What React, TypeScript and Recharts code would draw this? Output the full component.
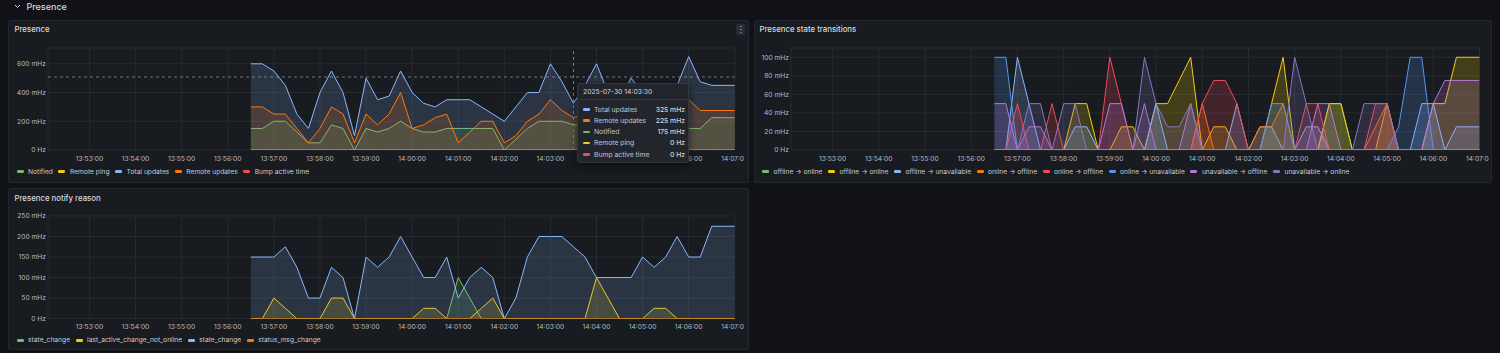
import React from 'react';
import { AreaChart, Area, XAxis, YAxis, CartesianGrid, ReferenceLine } from 'recharts';

// ---------- shared time axis ----------
const sampleTimes = [
  '13:56:30', '13:56:45', '13:57:00', '13:57:15', '13:57:30', '13:57:45', '13:58:00', '13:58:15', '13:58:30', '13:58:45',
  '13:59:00', '13:59:15', '13:59:30', '13:59:45', '14:00:00', '14:00:15', '14:00:30', '14:00:45', '14:01:00', '14:01:15',
  '14:01:30', '14:01:45', '14:02:00', '14:02:15', '14:02:30', '14:02:45', '14:03:00', '14:03:15', '14:03:30', '14:03:45',
  '14:04:00', '14:04:15', '14:04:30', '14:04:45', '14:05:00', '14:05:15', '14:05:30', '14:05:45', '14:06:00', '14:06:15',
  '14:06:30', '14:06:45', '14:07:00',
];
const xTickLabels = [
  '13:53:00', '13:54:00', '13:55:00', '13:56:00', '13:57:00', '13:58:00', '13:59:00', '14:00:00',
  '14:01:00', '14:02:00', '14:03:00', '14:04:00', '14:05:00', '14:06:00', '14:07:00',
];
const timeRange = ['13:52:06', '14:07:00'];

// ---------- panel 1: Presence (mHz) ----------
const presenceNotified = [
  150, 150, 200, 200, 125, 50, 50, 175, 150, 0,
  150, 125, 150, 200, 150, 125, 125, 150, 150, 150,
  150, 150, 0, 75, 150, 200, 200, 200, 175, 175,
  200, 150, 150, 175, 150, 150, 150, 150, 150, 150,
  225, 225, 225,
];
const presenceRemotePing = [
  0, 0, 0, 0, 0, 0, 0, 0, 0, 0,
  0, 0, 0, 0, 0, 0, 0, 0, 0, 0,
  0, 0, 0, 0, 0, 0, 0, 0, 0, 0,
  0, 0, 0, 0, 0, 0, 0, 0, 0, 0,
  0, 0, 0,
];
const presenceTotalUpdates = [
  600, 600, 550, 450, 250, 150, 400, 550, 400, 100,
  500, 350, 375, 550, 400, 325, 300, 350, 350, 350,
  300, 250, 200, 300, 400, 400, 600, 475, 325, 450,
  600, 400, 350, 500, 400, 375, 425, 450, 650, 475,
  450, 450, 450,
];
const presenceRemoteUpdates = [
  300, 300, 250, 250, 150, 50, 150, 300, 250, 50,
  250, 175, 250, 400, 150, 175, 225, 250, 50, 125,
  200, 200, 50, 100, 200, 250, 350, 275, 225, 250,
  300, 250, 225, 275, 250, 225, 250, 300, 350, 275,
  275, 275, 275,
];
const presenceBumpActiveTime = [
  0, 0, 0, 0, 0, 0, 0, 0, 0, 0,
  0, 0, 0, 0, 0, 0, 0, 0, 0, 0,
  0, 0, 0, 0, 0, 0, 0, 0, 0, 0,
  0, 0, 0, 0, 0, 0, 0, 0, 0, 0,
  0, 0, 0,
];
const presenceYTicks = [0, 200, 400, 600];
const presenceYMax = 710;

// hover state shown in the reference
const hoverDate = '2025-07-30';
const hoverTime = '14:03:30';
const hoverLevel = 508;

// ---------- panel 2: Presence state transitions (mHz) ----------
const trOfflineOnlineGreen = [
  0, 0, 0, 0, 0, 0, 0, 0, 0, 0,
  0, 0, 0, 0, 0, 0, 0, 0, 0, 0,
  0, 0, 0, 0, 0, 0, 0, 0, 0, 50,
  50, 0, 0, 0, 0, 0, 0, 0, 0, 0,
  0, 0, 0,
];
const trOfflineOnlineYellow = [
  0, 0, 0, 0, 0, 0, 0, 50, 50, 0,
  0, 25, 25, 0, 50, 50, 75, 100, 0, 25,
  25, 0, 0, 0, 50, 100, 0, 0, 0, 50,
  50, 0, 0, 0, 50, 0, 0, 0, 50, 50,
  100, 100, 100,
];
const trOfflineUnavailable = [
  0, 0, 100, 50, 0, 0, 0, 25, 25, 0,
  0, 0, 0, 0, 50, 0, 0, 0, 0, 0,
  0, 50, 0, 25, 25, 0, 0, 25, 25, 0,
  0, 0, 0, 0, 0, 0, 0, 50, 50, 0,
  25, 25, 25,
];
const trOnlineOfflineOrange = [
  0, 0, 0, 0, 0, 0, 0, 0, 0, 0,
  0, 0, 0, 0, 0, 0, 0, 0, 50, 0,
  0, 0, 0, 25, 25, 50, 0, 0, 0, 0,
  0, 0, 0, 25, 50, 0, 0, 0, 0, 0,
  0, 0, 0,
];
const trOnlineOfflineRed = [
  0, 0, 50, 0, 0, 50, 0, 0, 0, 0,
  100, 50, 0, 0, 0, 0, 0, 0, 50, 75,
  75, 50, 0, 0, 0, 0, 0, 50, 50, 0,
  0, 0, 0, 50, 50, 0, 0, 0, 0, 0,
  0, 0, 0,
];
const trOnlineUnavailable = [
  100, 100, 0, 0, 0, 0, 0, 0, 0, 0,
  0, 0, 0, 0, 0, 0, 0, 0, 0, 0,
  0, 0, 0, 0, 50, 50, 0, 0, 0, 0,
  0, 0, 0, 0, 0, 25, 100, 100, 0, 0,
  0, 0, 0,
];
const trUnavailableOffline = [
  50, 50, 0, 25, 25, 0, 0, 0, 0, 0,
  50, 50, 0, 50, 0, 0, 0, 50, 0, 0,
  0, 0, 0, 0, 0, 0, 0, 0, 50, 50,
  0, 0, 0, 0, 0, 0, 0, 0, 50, 75,
  75, 75, 75,
];
const trUnavailableOnline = [
  0, 0, 0, 50, 50, 0, 50, 50, 0, 0,
  0, 0, 0, 100, 50, 25, 25, 50, 0, 0,
  0, 0, 0, 0, 0, 0, 100, 50, 0, 0,
  0, 0, 50, 50, 50, 0, 0, 0, 0, 0,
  0, 0, 0,
];
const transitionsYTicks = [0, 20, 40, 60, 80, 100];
const transitionsYMax = 110;

// ---------- panel 3: Presence notify reason (mHz) ----------
const nrStateChangeGreen = [
  0, 0, 0, 0, 0, 0, 0, 0, 0, 0,
  0, 0, 0, 0, 0, 0, 0, 0, 100, 50,
  0, 0, 0, 0, 0, 0, 0, 0, 0, 0,
  0, 0, 0, 0, 0, 0, 0, 0, 0, 0,
  0, 0, 0,
];
const nrLastActiveNotOnline = [
  0, 0, 50, 25, 0, 0, 0, 50, 50, 0,
  0, 0, 0, 0, 0, 25, 25, 0, 0, 0,
  25, 50, 0, 0, 0, 0, 0, 0, 0, 0,
  100, 50, 0, 0, 0, 25, 25, 0, 0, 0,
  0, 0, 0,
];
const nrStateChangeBlue = [
  150, 150, 150, 175, 125, 50, 50, 125, 100, 0,
  150, 125, 150, 200, 150, 100, 100, 150, 50, 100,
  125, 100, 0, 50, 150, 200, 200, 200, 175, 150,
  100, 100, 100, 100, 150, 125, 150, 200, 150, 150,
  225, 225, 225,
];
const nrStatusMsgChange = [
  0, 0, 0, 0, 0, 0, 0, 0, 0, 0,
  0, 0, 0, 0, 0, 0, 0, 0, 0, 0,
  0, 0, 0, 0, 0, 0, 0, 0, 0, 0,
  0, 0, 0, 0, 0, 0, 0, 0, 0, 0,
  0, 0, 0,
];
const notifyYTicks = [0, 50, 100, 150, 200, 250];
const notifyYMax = 250;

// ---------- helpers ----------
const FONT = 'Inter, "Noto Sans", "DejaVu Sans", sans-serif';
const TICK_COLOR = '#b9bac3';
const LEGEND_COLOR = '#c9cad2';
const GRID = '#272a30';
const TICK_SIZE = 6.7;

const toSec = (s: string) => {
  const [h, m, x] = s.split(':').map(Number);
  return h * 3600 + m * 60 + x;
};
const fmtTime = (v: number) => {
  const h = Math.floor(v / 3600);
  const m = Math.floor((v % 3600) / 60);
  const s = Math.round(v % 60);
  return [h, m, s].map((n) => String(n).padStart(2, '0')).join(':');
};
const fmtHz = (v: number) => (v === 0 ? '0 Hz' : `${v} mHz`);

type Series = { key: string; name: string; color: string; values: number[] };

const buildRows = (series: Series[]) =>
  sampleTimes.map((t, i) => {
    const row: Record<string, number> = { t: toSec(t) };
    series.forEach((s) => {
      row[s.key] = s.values[i];
    });
    return row;
  });

const presenceSeries: Series[] = [
  { key: 'notified', name: 'Notified', color: '#73BF69', values: presenceNotified },
  { key: 'remotePing', name: 'Remote ping', color: '#F2CC0C', values: presenceRemotePing },
  { key: 'totalUpdates', name: 'Total updates', color: '#8AB8FF', values: presenceTotalUpdates },
  { key: 'remoteUpdates', name: 'Remote updates', color: '#FF780A', values: presenceRemoteUpdates },
  { key: 'bumpActive', name: 'Bump active time', color: '#F2495C', values: presenceBumpActiveTime },
];
const transitionSeries: Series[] = [
  { key: 'a', name: 'offline -> online', color: '#73BF69', values: trOfflineOnlineGreen },
  { key: 'b', name: 'offline -> online', color: '#F2CC0C', values: trOfflineOnlineYellow },
  { key: 'c', name: 'offline -> unavailable', color: '#8AB8FF', values: trOfflineUnavailable },
  { key: 'd', name: 'online -> offline', color: '#FF780A', values: trOnlineOfflineOrange },
  { key: 'e', name: 'online -> offline', color: '#F2495C', values: trOnlineOfflineRed },
  { key: 'f', name: 'online -> unavailable', color: '#5794F2', values: trOnlineUnavailable },
  { key: 'g', name: 'unavailable -> offline', color: '#B877D9', values: trUnavailableOffline },
  { key: 'h', name: 'unavailable -> online', color: '#8676C4', values: trUnavailableOnline },
];
const notifySeries: Series[] = [
  { key: 'sc1', name: 'state_change', color: '#73BF69', values: nrStateChangeGreen },
  { key: 'lac', name: 'last_active_change_not_online', color: '#F2CC0C', values: nrLastActiveNotOnline },
  { key: 'sc2', name: 'state_change', color: '#8AB8FF', values: nrStateChangeBlue },
  { key: 'smc', name: 'status_msg_change', color: '#FF780A', values: nrStatusMsgChange },
];

const xDomain = [toSec(timeRange[0]), toSec(timeRange[1])];
const xTicks = xTickLabels.map(toSec);

const XTick = (props: any) => {
  const { x, y, payload } = props;
  return (
    <text x={x} y={y} dy="0.71em" textAnchor="middle" fill={TICK_COLOR} fontSize={TICK_SIZE} fontFamily={FONT}>
      {fmtTime(payload.value)}
    </text>
  );
};
const YTick = (props: any) => {
  const { x, y, payload } = props;
  return (
    <text x={x} y={y} dy="0.36em" textAnchor="end" fill={TICK_COLOR} fontSize={TICK_SIZE} fontFamily={FONT}>
      {fmtHz(payload.value)}
    </text>
  );
};

type ChartProps = {
  left: number;
  top: number;
  width: number;
  height: number;
  yWidth: number;
  marginTop: number;
  marginRight: number;
  yMax: number;
  yTicks: number[];
  series: Series[];
  fillOpacity: number;
  children?: React.ReactNode;
};

function TimeChart(p: ChartProps) {
  const data = buildRows(p.series);
  return (
    <div style={{ position: 'absolute', left: p.left, top: p.top, width: p.width, height: p.height }}>
      <AreaChart
        width={p.width}
        height={p.height}
        data={data}
        margin={{ top: p.marginTop, right: p.marginRight, bottom: 2, left: 0 }}
      >
        <CartesianGrid stroke={GRID} strokeWidth={1} />
        <XAxis
          dataKey="t"
          type="number"
          domain={xDomain}
          ticks={xTicks}
          interval={0}
          allowDataOverflow
          tickLine={false}
          axisLine={false}
          tickSize={0}
          tickMargin={6}
          height={14}
          tick={<XTick />}
        />
        <YAxis
          type="number"
          domain={[0, p.yMax]}
          ticks={p.yTicks}
          interval={0}
          allowDataOverflow
          width={p.yWidth}
          tickLine={false}
          axisLine={false}
          tickSize={0}
          tickMargin={2}
          tick={<YTick />}
        />
        {p.series.map((s) => (
          <Area
            key={s.key}
            dataKey={s.key}
            name={s.name}
            type="linear"
            stroke={s.color}
            strokeWidth={1}
            fill={s.color}
            fillOpacity={p.fillOpacity}
            dot={false}
            activeDot={false}
            isAnimationActive={false}
          />
        ))}
        {p.children}
      </AreaChart>
    </div>
  );
}

function LegendRow({ left, top, series }: { left: number; top: number; series: Series[] }) {
  return (
    <div
      style={{
        position: 'absolute',
        left,
        top,
        display: 'flex',
        alignItems: 'center',
        fontFamily: FONT,
        fontSize: 6.7,
        lineHeight: '8px',
        color: LEGEND_COLOR,
        whiteSpace: 'nowrap',
      }}
    >
      {series.map((s) => (
        <div key={s.key} style={{ display: 'flex', alignItems: 'center', marginRight: 5.5 }}>
          <span
            style={{ display: 'inline-block', width: 7, height: 2.5, borderRadius: 1.25, background: s.color, marginRight: 4.5 }}
          />
          <span>{s.name}</span>
        </div>
      ))}
    </div>
  );
}

function PanelFrame({ left, top, width, height }: { left: number; top: number; width: number; height: number }) {
  return (
    <div
      style={{
        position: 'absolute',
        left,
        top,
        width,
        height,
        boxSizing: 'border-box',
        background: '#181b1f',
        border: '1px solid #24272d',
        borderRadius: 2,
      }}
    />
  );
}

function Title({ left, top, text }: { left: number; top: number; text: string }) {
  return (
    <div
      style={{
        position: 'absolute',
        left,
        top,
        fontFamily: FONT,
        fontSize: 7.8,
        fontWeight: 500,
        lineHeight: '9px',
        color: '#d8d9de',
        whiteSpace: 'nowrap',
      }}
    >
      {text}
    </div>
  );
}

function HoverTooltip() {
  const idx = sampleTimes.indexOf(hoverTime);
  const order = ['totalUpdates', 'remoteUpdates', 'notified', 'remotePing', 'bumpActive'];
  const rows = [...presenceSeries].sort((a, b) => order.indexOf(a.key) - order.indexOf(b.key));
  return (
    <div
      style={{
        position: 'absolute',
        left: 577,
        top: 83,
        width: 112,
        height: 80,
        boxSizing: 'border-box',
        background: '#22252b',
        border: '1px solid #34373e',
        borderRadius: 3,
        boxShadow: '0 3px 8px rgba(0,0,0,0.55)',
        fontFamily: FONT,
        fontSize: 6.8,
        color: '#d4d5dc',
      }}
    >
      <div style={{ position: 'absolute', left: 5, top: 3, lineHeight: '9px', whiteSpace: 'nowrap' }}>
        {hoverDate} {hoverTime}
      </div>
      <div style={{ position: 'absolute', left: 0, right: 0, top: 15, height: 1, background: '#34373e' }} />
      {rows.map((s, i) => (
        <div
          key={s.key}
          style={{ position: 'absolute', left: 5, top: 20.5 + i * 11.3, width: 102, height: 9, lineHeight: '9px', whiteSpace: 'nowrap' }}
        >
          <span
            style={{ position: 'absolute', left: 0, top: 3.5, width: 7, height: 2.5, borderRadius: 1.25, background: s.color }}
          />
          <span style={{ position: 'absolute', left: 11, top: 0, color: '#c3c4cc' }}>{s.name}</span>
          <span style={{ position: 'absolute', right: 0, top: 0, fontWeight: 500 }}>{fmtHz(s.values[idx])}</span>
        </div>
      ))}
    </div>
  );
}

export default function App() {
  return (
    <div
      style={{
        position: 'absolute',
        left: 0,
        top: 0,
        width: 1500,
        height: 353,
        overflow: 'hidden',
        background: '#111217',
        fontFamily: FONT,
      }}
    >
      {/* row header */}
      <svg style={{ position: 'absolute', left: 14, top: 4 }} width={7} height={5}>
        <polyline points="1,1 3.5,3.5 6,1" fill="none" stroke="#ccccdc" strokeWidth={1} />
      </svg>
      <div
        style={{
          position: 'absolute',
          left: 26.5,
          top: 1.5,
          fontSize: 9,
          fontWeight: 500,
          lineHeight: '10px',
          color: '#d8d9de',
        }}
      >
        Presence
      </div>

      {/* panels */}
      <PanelFrame left={8} top={20} width={741} height={163} />
      <PanelFrame left={754} top={20} width={738} height={163} />
      <PanelFrame left={8} top={188} width={741} height={162} />

      <Title left={14.5} top={24.8} text="Presence" />
      <Title left={759.5} top={24.8} text="Presence state transitions" />
      <Title left={14.5} top={193.5} text="Presence notify reason" />

      {/* panel menu icon */}
      <div
        style={{
          position: 'absolute',
          left: 736,
          top: 24,
          width: 9,
          height: 11,
          background: '#2a2d33',
          borderRadius: 2,
          color: '#c9cad2',
          fontSize: 8,
          lineHeight: '11px',
          textAlign: 'center',
        }}
      >
        ⋮
      </div>

      <TimeChart
        left={9}
        top={36}
        width={735}
        height={130}
        yWidth={39}
        marginTop={12}
        marginRight={9.2}
        yMax={presenceYMax}
        yTicks={presenceYTicks}
        series={presenceSeries}
        fillOpacity={0.16}
      >
        <ReferenceLine y={hoverLevel} stroke="#8f909a" strokeDasharray="3 3" strokeWidth={0.8} />
        <ReferenceLine x={toSec(hoverTime)} stroke="#8f909a" strokeDasharray="3 3" strokeWidth={0.8} />
      </TimeChart>
      <LegendRow left={16.5} top={167.7} series={presenceSeries} />

      <TimeChart
        left={755}
        top={36}
        width={734}
        height={130}
        yWidth={36}
        marginTop={12}
        marginRight={9.5}
        yMax={transitionsYMax}
        yTicks={transitionsYTicks}
        series={transitionSeries}
        fillOpacity={0.2}
      />
      <LegendRow left={762} top={167.7} series={transitionSeries} />

      <TimeChart
        left={9}
        top={203.7}
        width={735}
        height={130.6}
        yWidth={39}
        marginTop={12}
        marginRight={9.2}
        yMax={notifyYMax}
        yTicks={notifyYTicks}
        series={notifySeries}
        fillOpacity={0.16}
      />
      <LegendRow left={16.5} top={336.3} series={notifySeries} />

      <HoverTooltip />
    </div>
  );
}
